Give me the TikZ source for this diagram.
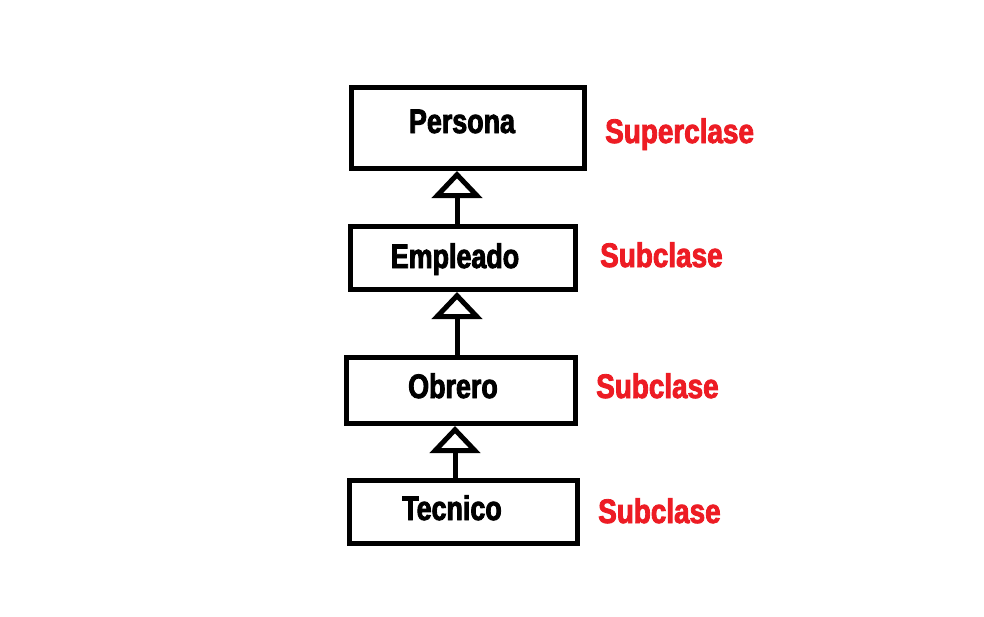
\documentclass[tikz,border=0pt]{standalone}
\usepackage{fontspec}
\setmainfont{Liberation Sans}[FakeStretch=0.8]
\newfontfamily\heavy{Liberation Sans Bold}[FakeStretch=0.79,FakeBold=2.5]
\newfontfamily\heavyr{Liberation Sans Bold}[FakeStretch=0.82,FakeBold=2.5]
\usetikzlibrary{arrows.meta}
\definecolor{lblred}{HTML}{ED1C24}
\tikzset{
  cls/.style={draw=black,line width=5pt,inner sep=0pt,fill=white},
  clstext/.style={anchor=base,inner sep=0pt,font=\heavy\fontsize{34}{40}\selectfont,text=black},
  role/.style={anchor=base west,inner sep=0pt,font=\heavyr\fontsize{34}{40}\selectfont,text=lblred},
  inh/.style={line width=5pt,-{Triangle[open,length=27pt,width=50pt,line width=5pt]}}
}
\begin{document}
\begin{tikzpicture}[x=1pt,y=-1pt]
\useasboundingbox[fill=white] (0,0) rectangle (984,616);
\node[cls,minimum width=233pt,minimum height=81pt] (per) at (468,128) {};
\node[cls,minimum width=225pt,minimum height=63pt] (emp) at (463,258) {};
\node[cls,minimum width=229pt,minimum height=66pt] (obr) at (461,390.5) {};
\node[cls,minimum width=228pt,minimum height=63pt] (tec) at (463.5,512) {};
\node[clstext] (tper) at (462,133) {Persona};
\node[clstext] (temp) at (455,268) {Empleado};
\node[clstext] (tobr) at (453,398) {Obrero};
\node[clstext] (ttec) at (452,520) {Tecnico};
\node[role] (rper) at (605,143) {Superclase};
\node[role] (remp) at (600,267) {Subclase};
\node[role] (robr) at (596,398) {Subclase};
\node[role] (rtec) at (598,523) {Subclase};
\draw[inh] ([xshift=-6pt]emp.north) -- ([xshift=-6pt]emp.north |- per.south);
\draw[inh] ([xshift=-4pt]obr.north) -- ([xshift=-4pt]obr.north |- emp.south);
\draw[inh] ([xshift=-8.5pt]tec.north) -- ([xshift=-8.5pt]tec.north |- obr.south);
\end{tikzpicture}
\end{document}
